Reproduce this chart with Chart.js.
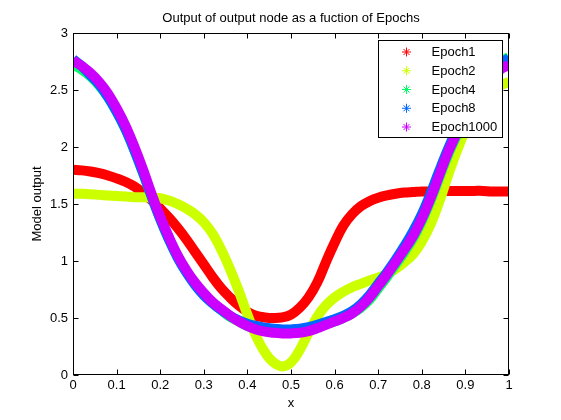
<!DOCTYPE html>
<html>
<head>
<meta charset="utf-8">
<script src="https://cdn.jsdelivr.net/npm/chart.js@4.4.1/dist/chart.umd.min.js"></script>
<style>
  html, body { margin: 0; padding: 0; background: #fff; }
  #wrap { width: 561px; height: 420px; }
</style>
</head>
<body>
<div id="wrap"><canvas id="chart"></canvas></div>
<script>
// input values (x) shared by every series
const xs = [0, 0.02, 0.04, 0.06, 0.08, 0.1, 0.12, 0.14, 0.16, 0.18, 0.2,
  0.22, 0.24, 0.26, 0.28, 0.3, 0.32, 0.34, 0.36, 0.38, 0.4,
  0.42, 0.44, 0.46, 0.48, 0.5, 0.52, 0.54, 0.56, 0.58, 0.6,
  0.62, 0.64, 0.66, 0.68, 0.7, 0.72, 0.74, 0.76, 0.78, 0.8,
  0.82, 0.84, 0.86, 0.88, 0.9, 0.92, 0.94, 0.96, 0.98, 1];

const epoch1 = [1.80, 1.795, 1.785, 1.77, 1.75, 1.725, 1.695, 1.655, 1.60, 1.535, 1.46,
  1.38, 1.29, 1.19, 1.08, 0.97, 0.86, 0.76, 0.68, 0.61, 0.555,
  0.52, 0.505, 0.50, 0.505, 0.53, 0.59, 0.68, 0.81, 0.99, 1.16,
  1.31, 1.41, 1.48, 1.525, 1.555, 1.575, 1.59, 1.60, 1.605, 1.61,
  1.61, 1.615, 1.615, 1.615, 1.615, 1.615, 1.615, 1.61, 1.61, 1.61];

const epoch2 = [1.59, 1.59, 1.585, 1.58, 1.575, 1.57, 1.565, 1.56, 1.56, 1.555, 1.55,
  1.53, 1.50, 1.46, 1.41, 1.34, 1.24, 1.10, 0.93, 0.74, 0.53,
  0.34, 0.20, 0.11, 0.075, 0.11, 0.22, 0.37, 0.51, 0.61, 0.68,
  0.73, 0.77, 0.80, 0.83, 0.855, 0.885, 0.93, 0.99, 1.06, 1.17,
  1.32, 1.52, 1.75, 1.96, 2.15, 2.30, 2.41, 2.49, 2.54, 2.57];

const epoch4 = [2.72, 2.68, 2.62, 2.54, 2.44, 2.31, 2.16, 1.98, 1.78, 1.57, 1.37,
  1.19, 1.04, 0.91, 0.80, 0.71, 0.63, 0.57, 0.51, 0.47, 0.43,
  0.41, 0.395, 0.39, 0.385, 0.385, 0.39, 0.40, 0.42, 0.45, 0.47,
  0.50, 0.54, 0.59, 0.66, 0.76, 0.86, 0.97, 1.08, 1.20, 1.35,
  1.53, 1.73, 1.93, 2.10, 2.27, 2.43, 2.56, 2.66, 2.74, 2.79];

const epoch8 = [2.77, 2.71, 2.63, 2.55, 2.44, 2.31, 2.16, 1.98, 1.78, 1.57, 1.37,
  1.19, 1.03, 0.90, 0.79, 0.70, 0.63, 0.57, 0.52, 0.48, 0.45,
  0.43, 0.415, 0.405, 0.40, 0.40, 0.405, 0.42, 0.44, 0.465, 0.49,
  0.52, 0.56, 0.62, 0.70, 0.80, 0.90, 1.01, 1.13, 1.26, 1.41,
  1.59, 1.79, 1.98, 2.15, 2.31, 2.46, 2.57, 2.66, 2.73, 2.78];

const epoch1000 = [2.76, 2.71, 2.65, 2.57, 2.47, 2.34, 2.19, 2.01, 1.81, 1.59, 1.39,
  1.21, 1.05, 0.92, 0.81, 0.72, 0.64, 0.58, 0.52, 0.47, 0.43,
  0.40, 0.38, 0.37, 0.365, 0.365, 0.37, 0.385, 0.41, 0.44, 0.47,
  0.50, 0.54, 0.60, 0.68, 0.78, 0.88, 0.99, 1.10, 1.22, 1.37,
  1.55, 1.75, 1.95, 2.12, 2.28, 2.42, 2.53, 2.62, 2.68, 2.72];

const seriesNames = ['Epoch1', 'Epoch2', 'Epoch4', 'Epoch8', 'Epoch1000'];
const seriesValues = [epoch1, epoch2, epoch4, epoch8, epoch1000];

const xTicks = [0, 0.1, 0.2, 0.3, 0.4, 0.5, 0.6, 0.7, 0.8, 0.9, 1];
const yTicks = [0, 0.5, 1, 1.5, 2, 2.5, 3];

// matlab hsv(5)
const colors = ['#ff0000', '#ccff00', '#00ff66', '#0066ff', '#cc00ff'];

const FONT = "'Liberation Sans', Arial, Helvetica, sans-serif";
Chart.defaults.font.family = FONT;
Chart.defaults.font.size = 13;
Chart.defaults.color = '#000';

// box round the axes with inward ticks on all four sides
const framePlugin = {
  id: 'frame',
  afterDatasetsDraw(chart) {
    const { ctx, chartArea: a, scales } = chart;
    const L = Math.round(a.left) + 0.5, R = Math.round(a.right) - 0.5;
    const T = Math.round(a.top) + 0.5, B = Math.round(a.bottom) - 0.5;
    ctx.save();
    ctx.strokeStyle = '#000';
    ctx.lineWidth = 1;
    ctx.strokeRect(L, T, R - L, B - T);
    ctx.beginPath();
    xTicks.forEach(v => {
      const px = Math.round(scales.x.getPixelForValue(v)) + 0.5;
      ctx.moveTo(px, B); ctx.lineTo(px, B - 5);
      ctx.moveTo(px, T); ctx.lineTo(px, T + 5);
    });
    yTicks.forEach(v => {
      const py = Math.round(scales.y.getPixelForValue(v)) + 0.5;
      ctx.moveTo(L, py); ctx.lineTo(L + 5, py);
      ctx.moveTo(R, py); ctx.lineTo(R - 5, py);
    });
    ctx.stroke();
    ctx.restore();
  }
};

// legend box drawn on top of the curves, top right inside the axes
const legendBoxPlugin = {
  id: 'legendBox',
  afterDraw(chart) {
    const { ctx, chartArea: a } = chart;
    const w = 124, h = 97;
    const left = Math.round(a.right - 7 - w) + 0.5;
    const top = Math.round(a.top + 7) + 0.5;
    ctx.save();
    ctx.fillStyle = '#fff';
    ctx.fillRect(left, top, w, h);
    ctx.strokeStyle = '#000';
    ctx.lineWidth = 1;
    ctx.strokeRect(left, top, w, h);
    ctx.font = '13px ' + FONT;
    ctx.textBaseline = 'middle';
    ctx.textAlign = 'left';
    seriesNames.forEach((name, i) => {
      const cy = top + 11.5 + i * 18.75;
      const cx = left + 28;
      ctx.strokeStyle = colors[i];
      ctx.beginPath();
      ctx.moveTo(cx - 4.5, cy); ctx.lineTo(cx + 4.5, cy);
      ctx.moveTo(cx, cy - 4.5); ctx.lineTo(cx, cy + 4.5);
      ctx.moveTo(cx - 3, cy - 3); ctx.lineTo(cx + 3, cy + 3);
      ctx.moveTo(cx - 3, cy + 3); ctx.lineTo(cx + 3, cy - 3);
      ctx.stroke();
      ctx.fillStyle = '#000';
      ctx.fillText(name, left + 53, cy + 0.5);
    });
    ctx.restore();
  }
};

const datasets = seriesValues.map((ys, i) => ({
  label: seriesNames[i],
  data: xs.map((x, j) => ({ x: x, y: ys[j] })),
  borderColor: colors[i],
  backgroundColor: colors[i],
  borderWidth: 10,
  pointRadius: 0,
  fill: false,
  tension: 0.4,
  order: seriesNames.length - i
}));

new Chart(document.getElementById('chart'), {
  type: 'line',
  data: { datasets },
  options: {
    responsive: true,
    maintainAspectRatio: false,
    animation: false,
    events: [],
    layout: { padding: { left: 0, right: 52, top: 0, bottom: 0 } },
    plugins: {
      legend: { display: false },
      tooltip: { enabled: false },
      title: {
        display: true,
        text: 'Output of output node as a fuction of Epochs',
        color: '#000',
        fullSize: false,
        font: { size: 13, weight: 'normal' },
        padding: { top: 10.9, bottom: 6.5 }
      }
    },
    scales: {
      x: {
        type: 'linear',
        min: 0,
        max: 1,
        afterBuildTicks: s => { s.ticks = xTicks.map(v => ({ value: v })); },
        afterFit: s => { s.height = 45; },
        ticks: { callback: v => String(v), padding: 3, maxRotation: 0, autoSkip: false },
        grid: { display: false, drawTicks: false },
        border: { display: false },
        title: { display: true, text: 'x', padding: { top: 0, bottom: 9.2 } }
      },
      y: {
        min: 0,
        max: 3,
        afterBuildTicks: s => { s.ticks = yTicks.map(v => ({ value: v })); },
        afterFit: s => { s.width = 73; },
        ticks: { callback: v => String(v), padding: 5 },
        grid: { display: false, drawTicks: false },
        border: { display: false },
        title: { display: true, text: 'Model output', padding: { top: 29.2, bottom: 0 } }
      }
    }
  },
  plugins: [framePlugin, legendBoxPlugin]
});
</script>
</body>
</html>
